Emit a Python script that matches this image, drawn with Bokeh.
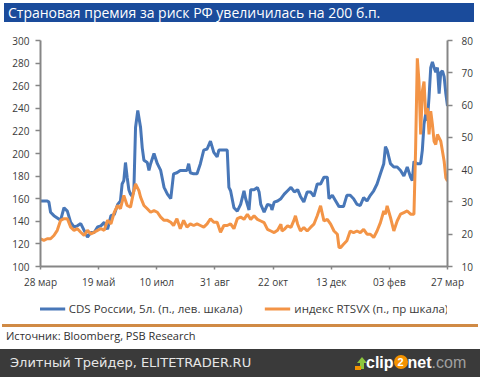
from bokeh.plotting import figure
from bokeh.models import (Range1d, LinearAxis, FixedTicker, Legend, LegendItem, Div)
from bokeh.layouts import column
from bokeh.embed import file_html
from bokeh.resources import INLINE

# ---------------- data (days since 28 Mar 2013) ----------------
cds_day = [0, 6, 7.5, 9, 12, 15, 18, 21, 24, 27, 30, 33, 36, 39, 42, 45, 48, 51, 54, 57,
           60, 63, 66, 69, 71.5, 73, 74.5, 76, 77.5, 79, 80.5, 82, 83.5, 85, 87, 89.5, 91,
           92.5, 95.5, 97, 98.5, 101.5, 104.5, 107.5, 110.5, 113.5, 116.5, 119, 122, 125,
           131, 132.5, 134, 137, 140, 143, 146, 149, 152, 155, 158, 159.5, 161, 167, 168.5,
           170, 173, 176, 179, 182, 183.5, 186.5, 188, 191, 194, 195.5, 197, 200, 203, 206,
           207, 209, 212, 215, 218, 221, 224, 227, 230, 232.5, 235.5, 238.5, 241.5, 244.5,
           247.5, 250.5, 253.5, 256.5, 258, 261, 264, 267, 271, 274, 277, 280, 283, 286,
           289, 292, 295, 298, 301, 304, 307, 308.5, 310, 313, 316, 319, 322, 325, 328,
           331, 332.5, 334, 337, 340, 341.5, 343, 344.5, 346, 347.5, 349, 350.5, 352,
           353.5, 355, 356.5, 358, 359.5, 361, 362.5, 364]
cds_val = [158, 158, 157, 148, 145, 143, 141, 152, 149, 139, 135, 136, 138, 132, 126, 130,
           130, 135, 136, 139, 133, 145, 146, 155, 158, 173, 176, 192, 179, 168, 164, 162,
           167, 223, 238, 223, 205, 194, 192, 185, 191, 200, 191, 185, 170, 164, 160, 182,
           183, 185, 185, 191, 183, 182, 182, 191, 203, 204, 211, 201, 197, 203, 203, 203,
           170, 167, 152, 149, 155, 167, 160, 150, 168, 168, 170, 166, 155, 148, 155, 154,
           150, 157, 158, 160, 164, 167, 170, 166, 168, 162, 157, 166, 166, 162, 173, 173,
           179, 179, 160, 163, 158, 153, 153, 163, 163, 160, 155, 154, 161, 158, 163, 167,
           173, 182, 191, 206, 203, 191, 188, 188, 185, 180, 188, 179, 176, 193, 191, 191,
           203, 226, 235, 229, 250, 276, 281, 276, 272, 276, 253, 272, 273, 268, 253, 242]

vx_day = [0, 3, 6, 9, 12, 15, 18, 21, 24, 27, 30, 33, 36, 39, 42, 45, 48, 51, 54, 57, 60,
          63, 66, 69, 71.5, 74.5, 77.5, 80.5, 83.5, 85, 88, 89.5, 92.5, 95.5, 98.5, 101.5,
          104.5, 107.5, 110.5, 113.5, 116.5, 119, 122, 125, 128, 131, 134, 137, 140, 143,
          146, 149, 152, 155, 158, 161, 164, 167, 170, 173, 176, 179, 182, 185, 188, 191,
          194, 197, 200, 203, 206, 209, 212, 215, 216, 218, 221, 224, 227, 228, 230, 232.5,
          235.5, 238.5, 241.5, 244.5, 247.5, 250.5, 253.5, 256.5, 259.5, 262.5, 265.5, 267,
          268.5, 271, 274, 277, 280, 283, 286, 289, 292, 295, 298, 301, 304, 307, 308.5,
          310, 313, 316, 319, 322, 325, 328, 331, 334, 335.5, 337, 338.5, 340, 341.5, 343,
          344.5, 346, 347.5, 349, 350.5, 352, 353.5, 355, 358, 361, 362.5, 364]
vx_val = [18.6, 18.1, 18.6, 18.6, 19.6, 21.2, 24.3, 24.8, 24.8, 22.2, 21.2, 21.7, 20.6, 19.6,
          21.2, 20.1, 20.6, 21.2, 21.7, 21.2, 24.3, 23.2, 26.8, 28.9, 27.9, 32.0, 28.9, 28.4,
          33.5, 35.6, 33.5, 31.5, 28.9, 27.9, 26.8, 27.3, 26.8, 25.3, 24.3, 24.3, 23.7, 22.7,
          24.8, 21.7, 24.3, 22.2, 23.2, 22.7, 23.2, 22.7, 22.2, 23.2, 24.8, 23.7, 23.7, 20.6,
          22.7, 22.7, 23.2, 21.7, 24.8, 25.3, 24.6, 26.2, 24.6, 25.7, 24.6, 24.1, 23.6, 21.5,
          21.0, 20.5, 21.2, 23.1, 21.0, 21.5, 22.6, 22.1, 24.6, 25.7, 23.1, 21.0, 22.1, 21.0,
          22.1, 23.1, 25.7, 28.8, 24.1, 24.6, 23.1, 21.0, 20.0, 15.9, 15.9, 16.9, 18.0, 21.0,
          20.5, 21.0, 20.5, 21.5, 20.0, 20.0, 19.0, 21.0, 23.6, 27.2, 26.2, 28.8, 25.2, 21.0,
          24.1, 26.2, 26.7, 27.2, 26.2, 26.2, 46.8, 74.5, 67.3, 50.9, 64.3, 67.3, 57.1, 59.1,
          50.9, 58.1, 54.0, 48.8, 47.8, 50.9, 48.8, 42.6, 37.5, 36.5]

x_ticks = [0, 52, 104, 156, 208, 260, 312, 364]
x_labels = ["28 мар", "19 май", "10 июл", "31 авг", "22 окт", "13 дек", "03 фев", "27 мар"]
left_ticks = [100, 120, 140, 160, 180, 200, 220, 240, 260, 280, 300]
right_ticks = [10, 20, 30, 40, 50, 60, 70, 80]

title_text = "Страновая премия за риск РФ увеличилась на 200 б.п."
series_names = ["CDS России, 5л. (п., лев. шкала)", "индекс RTSVX (п., пр шкала)"]
source_text = "Источник: Bloomberg, PSB Research"
footer_text = "Элитный Трейдер, ELITETRADER.RU"

# ---------------- style ----------------
W = 480
FONT = "Open Sans"
BLUE = "#4877B8"
ORANGE = "#F39446"
AXIS = "#868686"
TEXT = "#3A3A3A"

title_div = Div(
    text=(f'<div style="margin:3px 0 0 4px;width:470px;height:19px;background:#1A4B9B;'
          f'color:white;font-family:\'{FONT}\';font-size:14px;line-height:19px;'
          f'padding-left:4px;box-sizing:border-box;white-space:nowrap">{title_text}</div>'),
    width=W, height=32, margin=0)

# ---------------- main chart ----------------
p = figure(width=W, height=264, output_backend="svg", toolbar_location=None,
           x_range=Range1d(0, 364), y_range=Range1d(100, 300),
           min_border_left=40, min_border_right=33, min_border_top=8,
           min_border_bottom=30, margin=0)
p.extra_y_ranges = {"vx": Range1d(10, 80)}
p.xgrid.visible = False
p.ygrid.visible = False
p.outline_line_color = None
p.background_fill_color = "white"
p.border_fill_color = "white"

ry = LinearAxis(y_range_name="vx")
p.add_layout(ry, "right")

p.xaxis.ticker = FixedTicker(ticks=x_ticks)
p.xaxis.major_label_overrides = dict(zip(x_ticks, x_labels))
p.yaxis[0].ticker = FixedTicker(ticks=left_ticks)
ry.ticker = FixedTicker(ticks=right_ticks)

for ax in [p.xaxis[0], p.yaxis[0], ry]:
    ax.axis_line_color = AXIS
    ax.axis_line_width = 2
    ax.major_tick_line_color = AXIS
    ax.major_tick_line_width = 1.5
    ax.minor_tick_line_color = None
    ax.major_tick_in = 0
    ax.major_tick_out = 5
    ax.major_label_text_font = FONT
    ax.major_label_text_font_size = "10px"
    ax.major_label_text_color = TEXT
p.xaxis.major_tick_out = 3
p.xaxis.major_label_standoff = 5
p.yaxis[0].major_label_standoff = 6
ry.major_label_standoff = 9

r1 = p.line(cds_day, cds_val, line_color=BLUE, line_width=3)
r2 = p.line(vx_day, vx_val, line_color=ORANGE, line_width=3, y_range_name="vx")

# ---------------- legend strip (legend swatches only, drawn off-range) ----------------
lg = figure(width=W, height=24, output_backend="svg", toolbar_location=None,
            x_range=Range1d(0, 1), y_range=Range1d(0, 1), min_border=0, margin=0)
lg.axis.visible = False
lg.grid.visible = False
lg.outline_line_color = None
lr1 = lg.line([5, 6], [5, 6], line_color=BLUE, line_width=3)
lr2 = lg.line([5, 6], [5, 6], line_color=ORANGE, line_width=3)
legend = Legend(items=[LegendItem(label=series_names[0], renderers=[lr1]),
                       LegendItem(label=series_names[1], renderers=[lr2])],
                orientation="horizontal", location="center",
                border_line_color=None, background_fill_alpha=0,
                label_text_font=FONT, label_text_font_size="11.5px",
                label_text_color=TEXT, glyph_width=26, glyph_height=14,
                label_standoff=4, spacing=22, padding=0, margin=0)
lg.add_layout(legend)

# ---------------- footer ----------------
footer_html = (
    '<div style="position:relative;width:480px;height:57px;overflow:hidden">'
    '<div style="position:absolute;left:2px;top:4px;width:476px;height:2.5px;background:#D08A45"></div>'
    f'<div style="position:absolute;left:6px;top:9px;font-family:\'{FONT}\';font-size:11px;'
    f'line-height:14px;color:#303030;white-space:nowrap">{source_text}</div>'
    '<div style="position:absolute;left:0;top:29px;width:480px;height:28px;background:#3A3A3A"></div>'
    f'<div style="position:absolute;left:10px;top:29px;height:28px;line-height:28px;'
    f'font-family:\'DejaVu Sans\';font-size:13px;color:#E6E6E6;white-space:nowrap">{footer_text}</div>'
    # logo icon: green arrow over orange block
    '<div style="position:absolute;left:357px;top:37px;width:0;height:0;border-left:5px solid transparent;'
    'border-right:5px solid transparent;border-bottom:6px solid #8CC63F"></div>'
    '<div style="position:absolute;left:360px;top:43px;width:4px;height:6px;background:#8CC63F"></div>'
    '<div style="position:absolute;left:355px;top:46px;width:6px;height:4px;background:#F39200"></div>'
    '<div style="position:absolute;left:366px;top:29px;height:28px;line-height:28px;'
    'font-family:\'Liberation Sans\';font-weight:bold;font-size:16px;color:white;white-space:nowrap">'
    'clip<span style="display:inline-block;background:#F39200;border-radius:7px;width:14px;'
    'height:14px;line-height:14px;font-size:11px;text-align:center;vertical-align:2px">2</span>'
    'net<span style="color:#A0A0A0;font-weight:normal">.com</span></div>'
    '</div>')
footer_div = Div(text=footer_html, width=W, height=57, margin=0)

layout = column(title_div, p, lg, footer_div, spacing=0, margin=0)

open("out.html", "w").write(file_html(layout, INLINE))
